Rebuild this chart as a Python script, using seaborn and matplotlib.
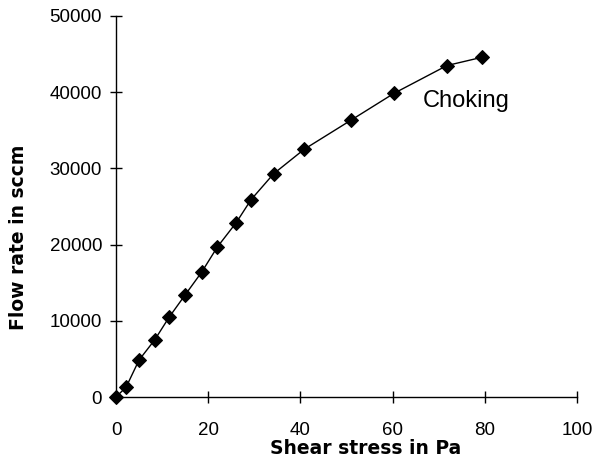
import matplotlib
matplotlib.use("Agg")
import matplotlib.pyplot as plt
import seaborn as sns
import pandas as pd

shear_stress = [0, 2.2, 5.0, 8.4, 11.5, 15.0, 18.6, 22.0, 26.1, 29.3, 34.2, 40.8, 50.9, 60.3, 71.8, 79.5]
flow_rate = [0, 1300, 4850, 7500, 10450, 13400, 16400, 19700, 22900, 25900, 29300, 32500, 36300, 39850, 43500, 44600]
x_ticks = [0, 20, 40, 60, 80, 100]
y_ticks = [0, 10000, 20000, 30000, 40000, 50000]
annotation = "Choking"

sns.set_style("ticks")
plt.rcParams['font.family'] = ['Liberation Sans', 'DejaVu Sans']
plt.rcParams['text.color'] = 'black'
plt.rcParams['axes.labelcolor'] = 'black'

df = pd.DataFrame({"x": shear_stress, "y": flow_rate})

fig = plt.figure(figsize=(5.95, 4.67), dpi=100)
ax = fig.add_axes([116/595, 70/467, 461/595, 381/467])

sns.lineplot(data=df, x="x", y="y", ax=ax, color="black", linewidth=1.0,
             marker="D", markersize=7, markeredgecolor="black", markerfacecolor="black")

ax.set_xlim(0, 100)
ax.set_ylim(0, 50000)
ax.set_xticks(x_ticks)
ax.set_yticks(y_ticks)
ax.set_xticklabels([str(v) for v in x_ticks])
ax.set_yticklabels([str(v) for v in y_ticks])
ax.tick_params(direction="inout", length=8, width=1, colors="black", labelcolor="black", labelsize=13.5)
ax.tick_params(axis="x", pad=14)
ax.tick_params(axis="y", pad=6)
for s in ["top", "right"]:
    ax.spines[s].set_visible(False)
for s in ["left", "bottom"]:
    ax.spines[s].set_color("black")
    ax.spines[s].set_linewidth(1.0)
for l in ax.lines:
    l.set_clip_on(False)

ax.set_xlabel("Shear stress in Pa", fontsize=13.5, fontweight="bold", family=['DejaVu Sans'], color="black")
ax.set_ylabel("Flow rate in sccm", fontsize=13.5, fontweight="bold", family=['DejaVu Sans'], color="black")
ax.xaxis.set_label_coords((366 - 116) / 461, (467 - 448 - 70) / 381, transform=None) if False else None
ax.xaxis.set_label_coords((366 - 116) / 461, -(448 - 397) / 381)
ax.xaxis.label.set_va("center")
ax.yaxis.set_label_coords(-(116 - 19) / 461, (397 - 237) / 381)
ax.yaxis.label.set_va("center")

ax.text(76, 38850, annotation, fontsize=17, ha="center", va="center", color="black")

fig.savefig("out.png", dpi=100)
